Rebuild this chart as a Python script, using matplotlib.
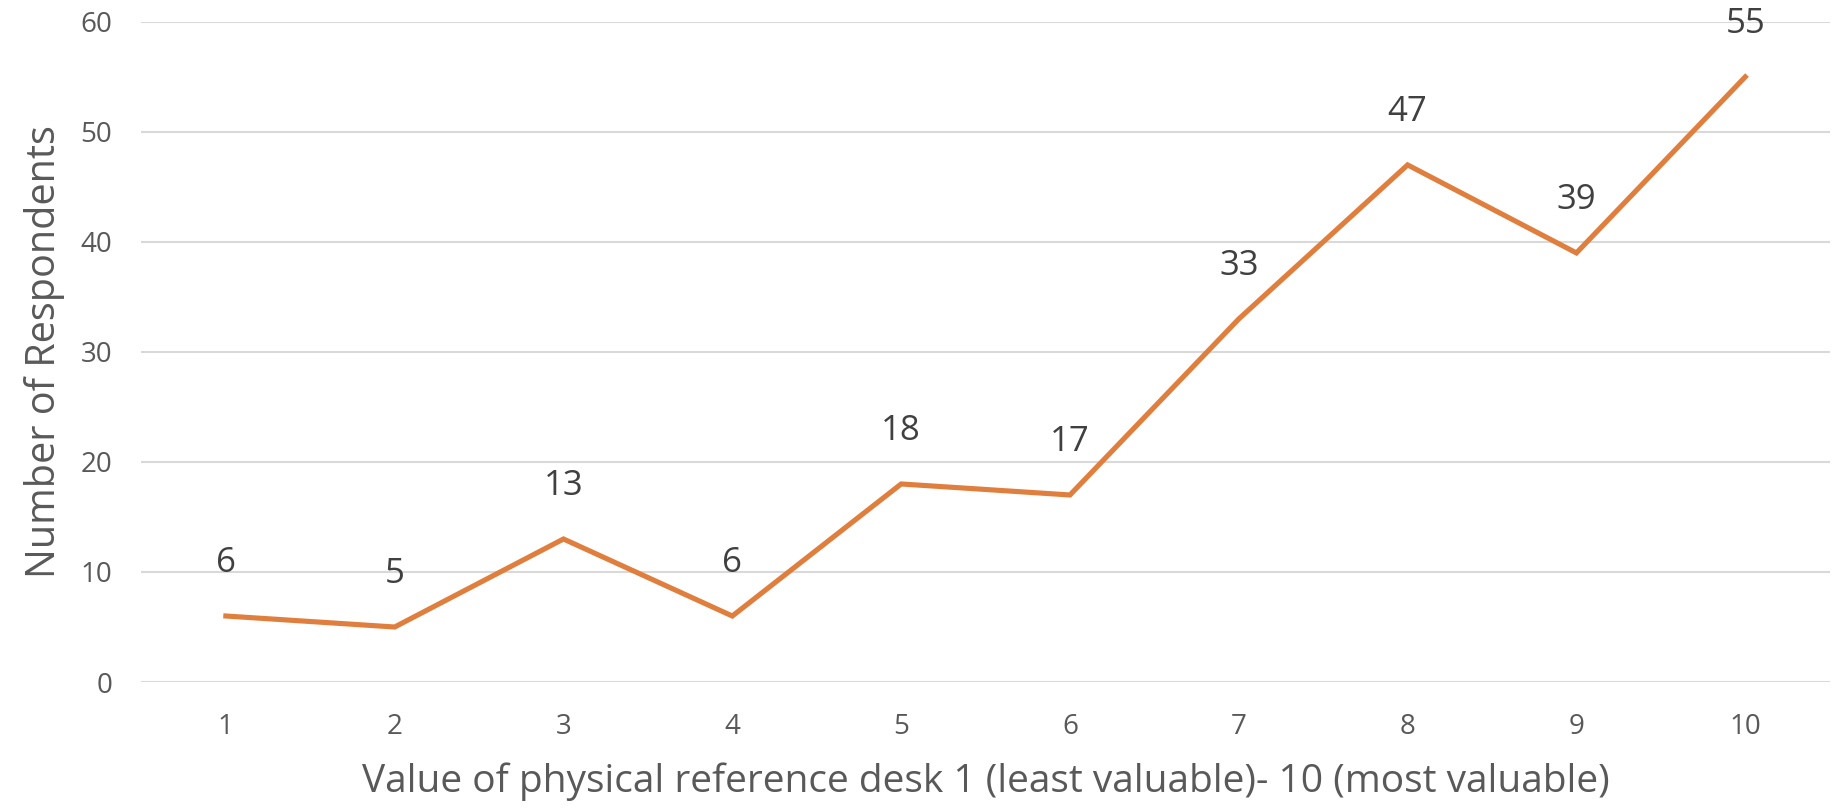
import matplotlib
matplotlib.use("Agg")
import matplotlib.pyplot as plt

ratings = [1, 2, 3, 4, 5, 6, 7, 8, 9, 10]
respondents = [6, 5, 13, 6, 18, 17, 33, 47, 39, 55]
y_ticks = [0, 10, 20, 30, 40, 50, 60]

plt.rcParams['font.family'] = ['Open Sans', 'DejaVu Sans']

fig = plt.figure(figsize=(18.37, 8.10), dpi=100)
ax = fig.add_axes([0.077, 0.158, 0.919, 0.815])

x = list(range(len(ratings)))
ax.plot(x, respondents, color='#e07e3e', linewidth=3.7, solid_joinstyle='miter', zorder=3)

# value labels sit above each point
for xi, v in zip(x, respondents):
    ax.annotate(str(v), (xi, v), xytext=(0, 38), textcoords='offset points',
                ha='center', va='center', fontsize=25, color='#404040')

ax.set_xlim(-0.5, len(ratings) - 0.5)
ax.set_ylim(0, 60)
ax.set_xticks(x)
ax.set_xticklabels([str(r) for r in ratings])
ax.set_yticks(y_ticks)

ax.grid(axis='y', color='#d9d9d9', linewidth=1.5)
ax.set_axisbelow(True)
for s in ax.spines.values():
    s.set_visible(False)
ax.tick_params(axis='both', length=0, labelsize=20, labelcolor='#595959')
ax.tick_params(axis='y', pad=21)
ax.tick_params(axis='x', pad=22)

ax.set_xlabel('Value of physical reference desk 1 (least valuable)- 10 (most valuable)',
              fontsize=28, color='#595959', labelpad=16)
ax.set_ylabel('Number of Respondents', fontsize=28.5, color='#595959', labelpad=11)

fig.savefig('out.png', dpi=100, facecolor='white')
